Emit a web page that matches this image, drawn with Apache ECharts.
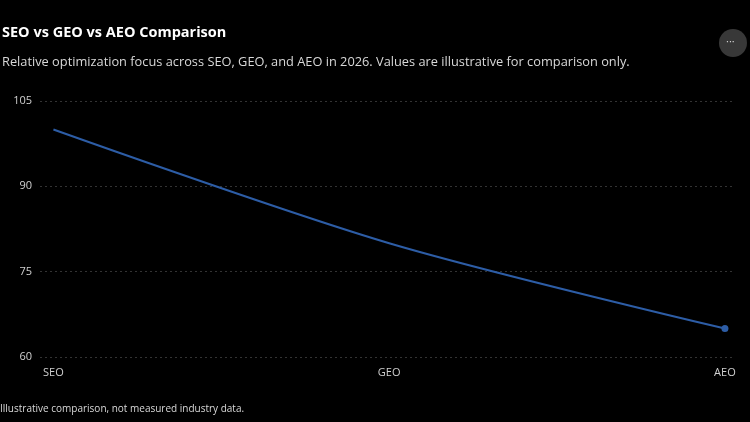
<!DOCTYPE html>
<html>
<head>
<meta charset="utf-8">
<script src="https://cdn.jsdelivr.net/npm/echarts@6/dist/echarts.min.js"></script>
<style>
  html, body { margin: 0; padding: 0; background: #000; }
  #chart { width: 750px; height: 422px; }
</style>
</head>
<body>
<div id="chart"></div>
<script>
const categories = ['SEO', 'GEO', 'AEO']
const focusValues = [100, 80, 65]
const yTicks = [60, 75, 90, 105]

const chart = echarts.init(document.getElementById('chart'))

// only the last point carries a marker
const lineData = focusValues.map((v, i) => {
  if (i === focusValues.length - 1) {
    return { value: [i, v], symbol: 'circle', symbolSize: 7 }
  }
  return [i, v]
})

const font = '"Open Sans", "Noto Sans", sans-serif'

const option = {
  backgroundColor: '#000',
  animation: false,
  title: {
    text: 'SEO vs GEO vs AEO Comparison',
    subtext: 'Relative optimization focus across SEO, GEO, and AEO in 2026. Values are illustrative for comparison only.',
    left: -3,
    top: 20,
    itemGap: 16,
    textStyle: { color: '#fff', fontSize: 14.5, fontWeight: 'bold', fontFamily: font },
    subtextStyle: { color: '#d8d8d8', fontSize: 12.8, fontFamily: font }
  },
  grid: { left: 40, right: 15, top: 101, bottom: 65 },
  xAxis: {
    type: 'value',
    min: -0.04,
    max: 2.03,
    splitLine: { show: false },
    axisLine: { show: false },
    axisTick: { show: false },
    axisLabel: {
      customValues: [0, 1, 2],
      formatter: (v) => categories[Math.round(v)],
      color: '#d0d0d0',
      fontSize: 11,
      fontFamily: font,
      margin: 10
    }
  },
  yAxis: {
    type: 'value',
    min: 60,
    max: 105,
    interval: 15,
    axisLine: { show: false },
    axisTick: { show: false },
    axisLabel: {
      customValues: yTicks,
      color: '#d0d0d0',
      fontSize: 11,
      fontFamily: font,
      margin: 8
    },
    splitLine: {
      lineStyle: { color: '#333', type: [2, 3], width: 1 }
    }
  },
  series: [
    {
      type: 'line',
      data: lineData,
      smooth: 0.3,
      symbol: 'none',
      lineStyle: { color: '#2d5da6', width: 2 },
      itemStyle: { color: '#2d5da6' }
    }
  ],
  graphic: [
    {
      type: 'circle',
      shape: { cx: 733, cy: 43, r: 14 },
      style: { fill: '#383838' }
    },
    {
      type: 'text',
      left: 726,
      top: 36,
      style: { text: '···', fill: '#d0d0d0', fontSize: 11, fontFamily: font }
    },
    {
      type: 'text',
      left: 0,
      top: 404,
      style: {
        text: 'Illustrative comparison, not measured industry data.',
        fill: '#d8d8d8',
        fontSize: 10,
        fontFamily: font
      }
    }
  ]
}

chart.setOption(option)
</script>
</body>
</html>
